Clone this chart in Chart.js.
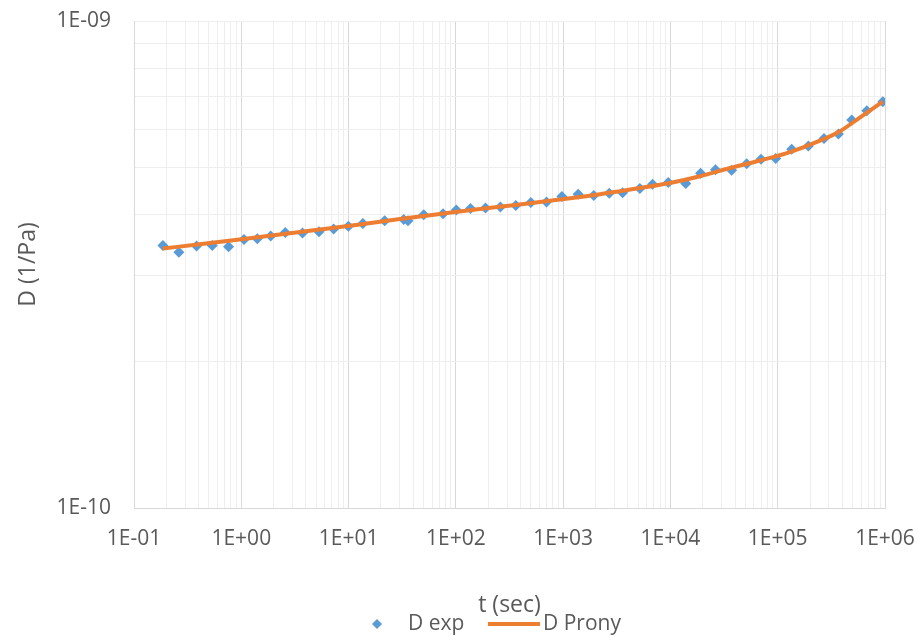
<!DOCTYPE html>
<html>
<head>
<meta charset="utf-8">
<script src="https://cdn.jsdelivr.net/npm/chart.js@4.4.1/dist/chart.umd.min.js"></script>
<style>
  html, body { margin: 0; padding: 0; background: #ffffff; }
  #wrap { width: 918px; height: 637px; }
</style>
</head>
<body>
<div id="wrap"><canvas id="c" width="918" height="637"></canvas></div>
<script>
// Creep compliance D(t): measured points and the Prony series fit
const tExp = [0.186, 0.262, 0.383, 0.536, 0.761, 1.06, 1.41, 1.88, 2.57, 3.72,
  5.30, 7.26, 9.96, 13.6, 21.7, 32.7, 35.8, 50.2, 76.0, 101,
  137, 189, 260, 362, 500, 700, 973, 1380, 1930, 2690,
  3580, 5190, 6820, 9540, 13900, 19100, 26300, 37200, 51400, 69900,
  95800, 135000, 193000, 270000, 368000, 490000, 677000, 954000];
const dExp = [3.46e-10, 3.35e-10, 3.45e-10, 3.46e-10, 3.44e-10, 3.56e-10, 3.57e-10, 3.62e-10, 3.68e-10, 3.67e-10,
  3.69e-10, 3.74e-10, 3.79e-10, 3.84e-10, 3.89e-10, 3.91e-10, 3.89e-10, 4.00e-10, 4.02e-10, 4.09e-10,
  4.12e-10, 4.13e-10, 4.15e-10, 4.18e-10, 4.24e-10, 4.25e-10, 4.36e-10, 4.41e-10, 4.38e-10, 4.43e-10,
  4.44e-10, 4.53e-10, 4.62e-10, 4.66e-10, 4.64e-10, 4.87e-10, 4.95e-10, 4.94e-10, 5.09e-10, 5.20e-10,
  5.22e-10, 5.45e-10, 5.54e-10, 5.74e-10, 5.86e-10, 6.26e-10, 6.54e-10, 6.83e-10];

const tProny = [0.186, 0.408, 0.964, 2.28, 5.38, 12.7, 30.0, 70.8, 167, 395, 932,
  2200, 5190, 9890, 18900, 35900, 68400, 130000, 248000, 381000, 586000, 954000];
const dProny = [3.41e-10, 3.48e-10, 3.56e-10, 3.645e-10, 3.73e-10, 3.82e-10, 3.92e-10, 4.015e-10, 4.11e-10, 4.20e-10, 4.30e-10,
  4.41e-10, 4.54e-10, 4.65e-10, 4.80e-10, 4.99e-10, 5.17e-10, 5.38e-10, 5.68e-10, 5.94e-10, 6.34e-10, 6.83e-10];

const xDecades = [1e-1, 1e0, 1e1, 1e2, 1e3, 1e4, 1e5, 1e6];
const xTickLabels = ['1E-01', '1E+00', '1E+01', '1E+02', '1E+03', '1E+04', '1E+05', '1E+06'];
const yDecades = [1e-10, 1e-9];
const yTickLabels = ['1E-10', '1E-09'];

const seriesNames = ['D exp', 'D Prony'];
const xTitle = 't (sec)';
const yTitle = 'D (1/Pa)';

const BLUE = '#5B9BD5';
const ORANGE = '#ED7D31';
const TEXT = '#595959';
const FONT = "'Open Sans', 'Liberation Sans', sans-serif";

// gridline values: 1..9 within every decade, plus the closing decade
function logTicks(decades) {
  const out = [];
  for (let i = 0; i < decades.length - 1; i++) {
    for (let k = 1; k <= 9; k++) out.push({ value: k * decades[i] });
  }
  out.push({ value: decades[decades.length - 1] });
  return out;
}
function decadeIndex(decades, v) {
  for (let i = 0; i < decades.length; i++) {
    if (Math.abs(v / decades[i] - 1) < 1e-6) return i;
  }
  return -1;
}

// legend drawn under the axis title
const bottomLegend = {
  id: 'bottomLegend',
  afterDraw(chart) {
    const ctx = chart.ctx;
    const ds = chart.data.datasets;
    const y = 624;
    ctx.save();
    ctx.font = '21px ' + FONT;
    ctx.textBaseline = 'middle';
    ctx.textAlign = 'left';
    // marker sample
    ctx.fillStyle = BLUE;
    ctx.beginPath();
    ctx.moveTo(377 - 5, y); ctx.lineTo(377, y - 5); ctx.lineTo(377 + 5, y); ctx.lineTo(377, y + 5);
    ctx.closePath(); ctx.fill();
    ctx.fillStyle = TEXT;
    ctx.fillText(ds[0].label, 408, y);
    // line sample
    ctx.strokeStyle = ORANGE;
    ctx.lineWidth = 4;
    ctx.beginPath(); ctx.moveTo(488, y); ctx.lineTo(540, y); ctx.stroke();
    ctx.fillText(ds[1].label, 543, y);
    ctx.restore();
  }
};

new Chart(document.getElementById('c'), {
  type: 'scatter',
  data: {
    datasets: [
      {
        label: seriesNames[0],
        data: tExp.map((t, i) => ({ x: t, y: dExp[i] })),
        pointStyle: 'rectRot',
        pointRadius: 5.5,
        pointBorderWidth: 0,
        backgroundColor: BLUE,
        borderColor: BLUE,
        showLine: false,
        order: 1
      },
      {
        type: 'line',
        label: seriesNames[1],
        data: tProny.map((t, i) => ({ x: t, y: dProny[i] })),
        borderColor: ORANGE,
        backgroundColor: ORANGE,
        borderWidth: 4,
        pointRadius: 0,
        cubicInterpolationMode: 'monotone',
        fill: false,
        order: 0
      }
    ]
  },
  options: {
    responsive: false,
    animation: false,
    devicePixelRatio: 1,
    layout: { padding: { top: 21, right: 33, left: 0, bottom: 14 } },
    plugins: {
      legend: { display: false },
      tooltip: { enabled: false }
    },
    scales: {
      x: {
        type: 'logarithmic',
        min: xDecades[0],
        max: xDecades[xDecades.length - 1],
        afterBuildTicks: s => { s.ticks = logTicks(xDecades); },
        afterFit: s => { s.height = 115; s.paddingLeft = 0; s.paddingRight = 0; },
        border: { display: true, color: '#d9d9d9', width: 1 },
        grid: {
          drawTicks: false,
          color: c => decadeIndex(xDecades, c.tick.value) >= 0 ? '#d9d9d9' : '#eeeeee',
          lineWidth: 1
        },
        ticks: {
          autoSkip: false,
          maxRotation: 0,
          minRotation: 0,
          padding: 18,
          color: TEXT,
          font: { family: FONT, size: 21 },
          callback: v => {
            const i = decadeIndex(xDecades, v);
            return i >= 0 ? xTickLabels[i] : '';
          }
        },
        title: {
          display: true,
          text: xTitle,
          color: TEXT,
          font: { family: FONT, size: 23 },
          padding: { top: 4, bottom: 4 }
        }
      },
      y: {
        type: 'logarithmic',
        min: yDecades[0],
        max: yDecades[yDecades.length - 1],
        afterBuildTicks: s => { s.ticks = logTicks(yDecades); },
        afterFit: s => { s.width = 134; s.paddingTop = 0; s.paddingBottom = 0; },
        border: { display: true, color: '#d9d9d9', width: 1 },
        grid: {
          drawTicks: false,
          color: '#eeeeee',
          lineWidth: 1
        },
        ticks: {
          autoSkip: false,
          padding: 23,
          color: TEXT,
          font: { family: FONT, size: 21 },
          callback: v => {
            const i = decadeIndex(yDecades, v);
            return i >= 0 ? yTickLabels[i] : '';
          }
        },
        title: {
          display: true,
          text: yTitle,
          color: TEXT,
          font: { family: FONT, size: 23 },
          padding: { top: 15, bottom: 4 }
        }
      }
    }
  },
  plugins: [bottomLegend]
});
</script>
</body>
</html>
